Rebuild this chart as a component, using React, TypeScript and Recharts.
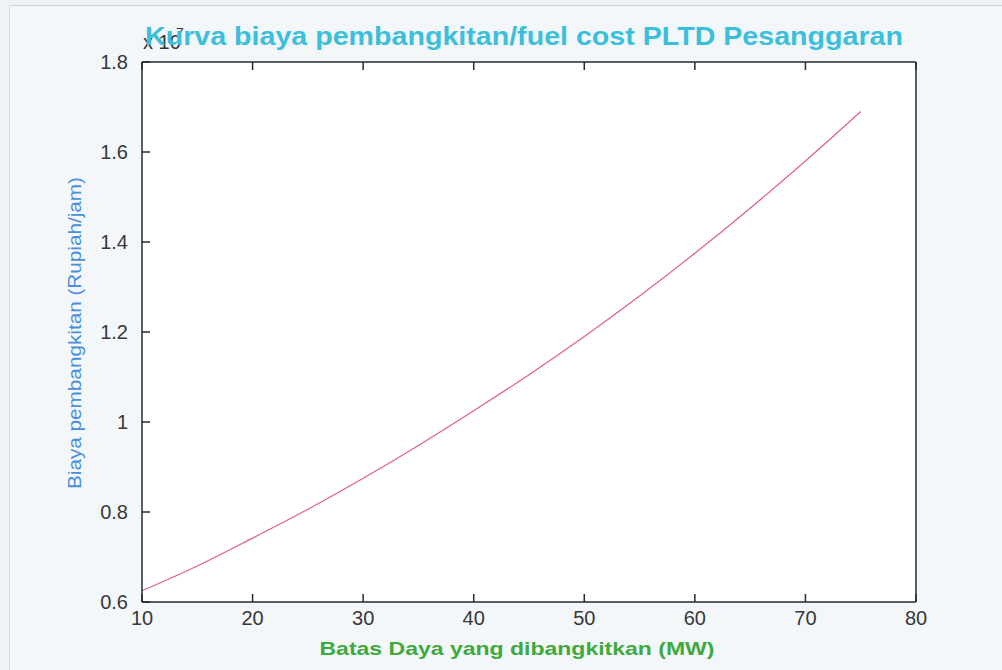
import { LineChart, Line, XAxis, YAxis, CartesianGrid } from 'recharts'

// power output (MW) vs generation cost (x 10^7 Rupiah/jam)
const powerMW = [10, 15, 20, 25, 30, 35, 40, 45, 50, 55, 60, 65, 70, 75]
const costE7 = [0.625, 0.68, 0.742, 0.806, 0.875, 0.948, 1.025, 1.105, 1.19, 1.28, 1.375, 1.475, 1.58, 1.69]

const xTicks = [10, 20, 30, 40, 50, 60, 70, 80]
const yTicks = [0.6, 0.8, 1, 1.2, 1.4, 1.6, 1.8]

const data = powerMW.map((p, i) => ({ power: p, cost: costE7[i] }))

const W = 1002
const H = 670
const font = '"Liberation Sans", Arial, Helvetica, sans-serif'
const axisColor = '#2a2a2a'
const tickStyle = { fill: '#383838', fontSize: 20, fontFamily: font }

export default function App() {
    return (
        <div
            style={{
                position: 'absolute',
                left: 0,
                top: 0,
                width: W,
                height: H,
                background: '#eef3f6',
            }}
        >
            <div
                style={{
                    position: 'absolute',
                    left: 9,
                    top: 5,
                    right: 0,
                    bottom: 0,
                    borderTop: '1px solid #cfd4d8',
                    borderLeft: '1px solid #d8dde0',
                    background: '#f3f7f9',
                }}
            />
            <div style={{ position: 'absolute', left: 0, top: 0 }}>
                <LineChart
                    width={W}
                    height={H}
                    data={data}
                    margin={{ top: 61, right: 85, bottom: 67, left: 141 }}
                >
                    <CartesianGrid horizontal={false} vertical={false} fill="#ffffff" stroke="none" />
                    <XAxis
                        dataKey="power"
                        type="number"
                        domain={[10, 80]}
                        ticks={xTicks}
                        height={1}
                        tickSize={-8}
                        tickMargin={17}
                        tick={tickStyle}
                        stroke={axisColor}
                        strokeWidth={1.5}
                    />
                    <XAxis
                        xAxisId="top"
                        orientation="top"
                        dataKey="power"
                        type="number"
                        domain={[10, 80]}
                        ticks={xTicks}
                        height={1}
                        tickSize={-8}
                        tickFormatter={() => ''}
                        stroke={axisColor}
                        strokeWidth={1.5}
                    />
                    <YAxis
                        type="number"
                        domain={[0.6, 1.8]}
                        ticks={yTicks}
                        width={1}
                        tickSize={-8}
                        tickMargin={22}
                        tick={tickStyle}
                        tickFormatter={(v: number) => String(v)}
                        stroke={axisColor}
                        strokeWidth={1.5}
                    />
                    <YAxis
                        yAxisId="right"
                        orientation="right"
                        type="number"
                        domain={[0.6, 1.8]}
                        ticks={yTicks}
                        width={1}
                        tickSize={-8}
                        tickFormatter={() => ''}
                        stroke={axisColor}
                        strokeWidth={1.5}
                    />
                    <Line
                        type="monotone"
                        dataKey="cost"
                        stroke="#e0607e"
                        strokeWidth={1.2}
                        dot={false}
                        isAnimationActive={false}
                    />
                </LineChart>
            </div>
            <svg
                width={W}
                height={H}
                style={{ position: 'absolute', left: 0, top: 0, pointerEvents: 'none' }}
            >
                <text x={143} y={49} fontSize={20} fill="#333" fontFamily={font}>
                    x 10
                </text>
                <text x={176} y={38} fontSize={14} fill="#333" fontFamily={font}>
                    7
                </text>
                <text
                    x={524}
                    y={45}
                    textAnchor="middle"
                    fontSize={26}
                    fontWeight="bold"
                    fill="#3cbfdc"
                    fontFamily={font}
                    textLength={758}
                    lengthAdjust="spacingAndGlyphs"
                >
                    Kurva biaya pembangkitan/fuel cost PLTD Pesanggaran
                </text>
                <text
                    x={517}
                    y={655}
                    textAnchor="middle"
                    fontSize={19}
                    fontWeight="bold"
                    fill="#3eaa3e"
                    fontFamily={font}
                    textLength={395}
                    lengthAdjust="spacingAndGlyphs"
                >
                    Batas Daya yang dibangkitkan (MW)
                </text>
                <text
                    x={0}
                    y={0}
                    transform="translate(81, 333) rotate(-90)"
                    textAnchor="middle"
                    fontSize={18}
                    fill="#4a8fdc"
                    fontFamily={font}
                    textLength={312}
                    lengthAdjust="spacingAndGlyphs"
                >
                    Biaya pembangkitan (Rupiah/jam)
                </text>
            </svg>
        </div>
    )
}
